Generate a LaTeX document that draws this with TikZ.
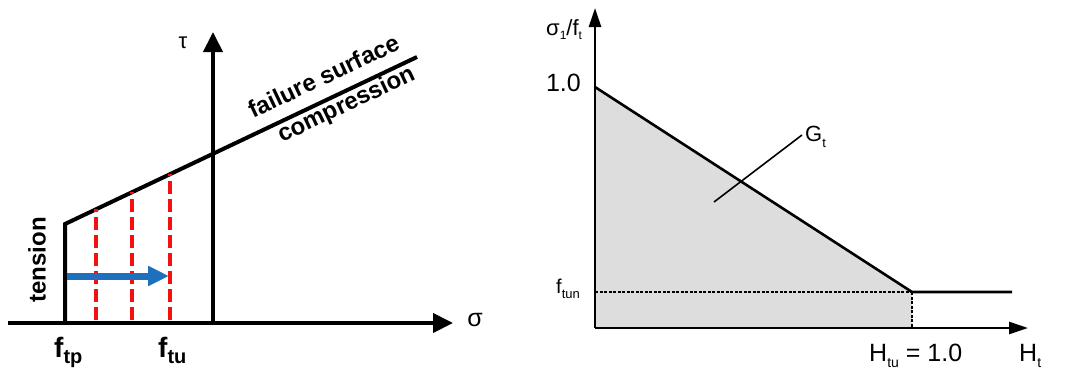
\documentclass[tikz,border=0pt]{standalone}
\usepackage{fontspec}
\setmainfont{Liberation Sans}
\usetikzlibrary{arrows.meta}
\definecolor{bluearr}{RGB}{30,112,190}
\definecolor{gfill}{RGB}{221,221,221}
\definecolor{reddash}{RGB}{245,15,15}
\newcommand\fs[1]{\fontsize{#1}{#1}\selectfont}
\newcommand\lsub[3]{\raisebox{-#1}{\fs{#2}#3}}
\begin{document}
\begin{tikzpicture}[x=1pt,y=-1pt,
  thick axis/.style={line width=4pt},
  bigtip/.style={-{Triangle[length=20pt,width=19pt]}},
  thinaxis/.style={line width=2.6pt},
  smalltip/.style={-{Triangle[length=19pt,width=12pt]}},
  redline/.style={draw=reddash,line width=4pt,dash pattern=on 13pt off 5pt},
  dotline/.style={line width=2.8pt,dash pattern=on 3pt off 1.5pt},
  boldlbl/.style={font=\fs{24}\bfseries,inner sep=0pt},
  lbl/.style={inner sep=0pt}]
\useasboundingbox (0,0) rectangle (1075,370);

% ---------------- left panel ----------------
\coordinate (O1) at (8,323);
\coordinate (sx) at (453,323);
\coordinate (tb) at (213,323);
\coordinate (tt) at (213,32);
\draw[thick axis,bigtip] (O1) -- (sx);
\draw[thick axis,bigtip] (tb) -- (tt);
\node[lbl,font=\fs{25}] (sig) at (475,320) {σ};
\node[lbl,font=\fs{22}] (tau) at (183,43) {τ};

\coordinate (A) at (65,323);
\coordinate (B) at (65,224);
\coordinate (C) at (417,57);
\draw[line width=4pt,line join=miter] (A) -- (B) -- (C);

\path (B) -- (C) coordinate[pos=0.088] (r1) coordinate[pos=0.190] (r2) coordinate[pos=0.298] (r3);
\draw[redline] (r1 |- A) ++(0,-3) -- (r1);
\draw[redline] (r2 |- A) ++(0,-3) -- (r2);
\draw[redline] (r3 |- A) ++(0,-3) -- (r3);

\coordinate (bs) at (67,276);
\coordinate (be) at (169,276);
\draw[draw=bluearr,line width=7pt,-{Triangle[length=21pt,width=19pt]}] (bs) -- (be);

\node[boldlbl,rotate=90] (tension) at (37,260) {tension};
\node[boldlbl,rotate=25.4,anchor=base west] (fail) at (253,119) {failure surface};
\node[boldlbl,rotate=25.4,anchor=base west] (comp) at (282,143) {compression};

\node[lbl,anchor=base west,font=\bfseries] (ftp) at (54,357) {\fs{28}f\lsub{6pt}{20}{tp}};
\node[lbl,anchor=base west,font=\bfseries] (ftu) at (158,357) {\fs{28}f\lsub{6pt}{20}{tu}};

% ---------------- right panel ----------------
\coordinate (O2) at (595,328);
\coordinate (P1) at (595,87);
\coordinate (K) at (912,292);
\coordinate (Kb) at (912,328);
\coordinate (Ke) at (1012,292);
\coordinate (Kl) at (595,292);
\coordinate (xe) at (1028,328);
\coordinate (ye) at (595,8);

\fill[gfill] (O2) -- (P1) -- (K) -- (Kb) -- cycle;
\draw[dotline] (Kl) -- (K);
\draw[dotline] (K) -- (Kb);
\draw[line width=2.6pt] (P1) -- (K) -- (Ke);
\draw[thinaxis,smalltip] (O2) -- (xe);
\draw[thinaxis,smalltip] (O2) -- (ye);

\coordinate (g1) at (802,135);
\coordinate (g2) at (714,202);
\draw[line width=1.6pt] (g1) -- (g2);
\node[lbl,anchor=base west,font=\fs{22}] (Gt) at (805,141) {G\lsub{6pt}{13}{t}};

\node[lbl,anchor=base west,font=\fs{22}] (s1) at (546,35) {σ\lsub{4pt}{12}{1}/f\lsub{4pt}{12}{t}};
\node[lbl,anchor=base east,font=\fs{25}] (one) at (581,91) {1.0};
\node[lbl,anchor=base west,font=\fs{20}] (ftun) at (556,293) {f\lsub{5pt}{13}{tun}};
\node[lbl,anchor=base west,font=\fs{25}] (Htu) at (869,361) {H\lsub{6pt}{14}{tu} = 1.0};
\node[lbl,anchor=base west,font=\fs{25}] (Ht) at (1019,361) {H\lsub{6pt}{14}{t}};
\end{tikzpicture}
\end{document}
